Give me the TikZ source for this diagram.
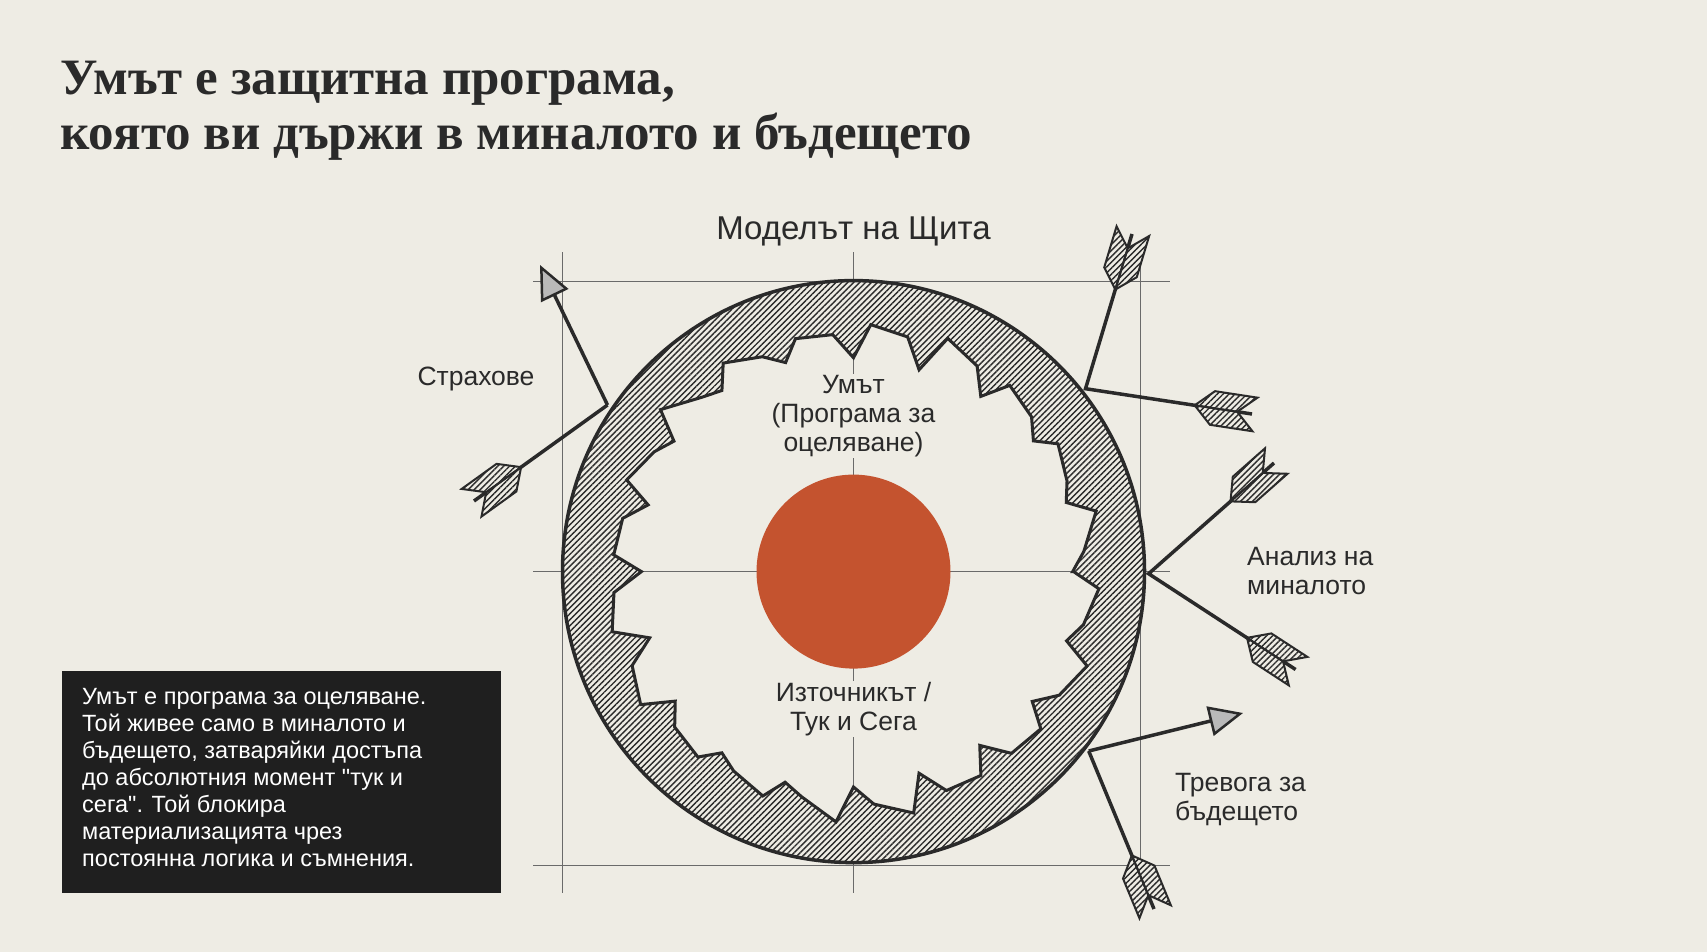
\documentclass[tikz,border=0pt]{standalone}
\usepackage{fontspec}
\setmainfont{Liberation Serif}
\newfontfamily\sansf{Liberation Sans}
\usetikzlibrary{patterns.meta,arrows.meta,calc}
\definecolor{bgc}{HTML}{EEECE4}
\definecolor{ink}{HTML}{2A2A2A}
\definecolor{sun}{HTML}{C4532F}
\definecolor{boxc}{HTML}{1F1F1F}
\tikzset{
  gridline/.style={draw=ink!70, line width=1pt},
  shaft/.style={draw=ink, line width=3.5pt},
  lbl/.style={font=\sansf\fontsize{26.5}{29}\selectfont, text=ink, inner sep=1pt},
  lbll/.style={lbl, align=left, anchor=west},
  lblc/.style={lbl, fill=bgc, align=center},
  hatch/.style={pattern={Lines[angle=45,distance=4.2pt,line width=1.4pt]}, pattern color=ink},
  headtip/.style={-{Triangle[length=34pt,width=30pt,fill=gray!55,line width=2.5pt]}},
  fletch/.pic={
    \fill[bgc] (-58pt,0pt)--(-40pt,17pt)--(3pt,17pt)--(-15pt,0pt)--(3pt,-17pt)--(-40pt,-17pt)--cycle;
    \draw[ink, line width=2pt, hatch, line join=miter] (-58pt,0pt)--(-40pt,17pt)--(3pt,17pt)--(-15pt,0pt)--cycle;
    \draw[ink, line width=2pt, hatch, line join=miter] (-58pt,0pt)--(-40pt,-17pt)--(3pt,-17pt)--(-15pt,0pt)--cycle;
  }
}
\begin{document}
\begin{tikzpicture}[x=1pt,y=-1pt]
\useasboundingbox (0,0) rectangle (1707,952);
\fill[bgc] (0,0) rectangle (1707,952);

% title
\node[anchor=west, font=\bfseries\fontsize{51}{55}\selectfont, text=ink, align=left, inner sep=0] (title) at (60,111)
  {Умът е защитна програма,\\която ви държи в миналото и бъдещето};

% grid
\coordinate (c) at (853.5,571.6);
\draw[gridline] (562,252) -- (562,893);
\draw[gridline] (853.5,252) -- (853.5,893);
\draw[gridline] (1140,252) -- (1140,893);
\draw[gridline] (533,281) -- (1170,281);
\draw[gridline] (533,571.6) -- (1170,571.6);
\draw[gridline] (533,865.5) -- (1170,865.5);

% ring
\def\teeth{(0:220) \foreach \i in {0,...,19}{ -- ({\i*18+4}:{246+6*sin(\i*97)}) -- ({\i*18+13}:{236+5*sin(\i*53)}) -- ({\i*18+18}:{218+6*cos(\i*61)}) } -- cycle}
\begin{scope}[shift={(c)}]
\fill[bgc, even odd rule] (0,0) circle (291) \teeth;
\fill[hatch, even odd rule] (0,0) circle (291) \teeth;
\draw[ink, line width=3.5pt] (0,0) circle (291);
\draw[ink, line width=3pt, line join=miter] \teeth;
\end{scope}
\fill[sun] (c) circle (97);

% labels
\node[lbl, font=\sansf\fontsize{33}{36}\selectfont, fill=bgc] (model) at (853.5,231) {Моделът на Щита};
\node[lblc] (mind) at (853.5,416) {Умът\\(Програма за\\оцеляване)};
\node[lblc] (source) at (853.5,709) {Източникът /\\Тук и Сега};
\node[lbl] (fears) at (476,379) {Страхове};
\node[lbll] (past) at (1246,571) {Анализ на\\миналото};
\node[lbll] (future) at (1174,800) {Тревога за\\бъдещето};

% arrows
\coordinate (b1) at (607.5,405); \coordinate (t1) at (474,501); \coordinate (h1) at (540,265);
\coordinate (b2) at (1085.5,388.7); \coordinate (t2a) at (1132,234); \coordinate (t2b) at (1252,414);
\coordinate (b3) at (1148.6,573.7); \coordinate (t3a) at (1274,463); \coordinate (t3b) at (1295.6,669.5);
\coordinate (b4) at (1088.7,751); \coordinate (h4) at (1243,713); \coordinate (t4) at (1154,909);

\draw[shaft] (t1) -- (b1);
\draw[shaft, headtip] (b1) -- (h1);
\draw[shaft, line join=miter] (t2a) -- (b2) -- (t2b);
\draw[shaft, line join=miter] (t3a) -- (b3) -- (t3b);
\draw[shaft] (t4) -- (b4);
\draw[shaft, headtip] (b4) -- (h4);

\foreach \e/\b in {t1/b1, t2a/b2, t2b/b2, t3a/b3, t3b/b3, t4/b4}{
  \path let \p1=($(\e)-(\b)$), \n1={atan2(\y1,\x1)} in pic[rotate=\n1] at (\e) {fletch};
}

% text box
\node[fill=boxc, anchor=north west, minimum width=439, minimum height=222, inner sep=0] (box) at (62,671) {};
\node[anchor=north west, text=white, align=left, font=\sansf\fontsize{23.5}{27}\selectfont, inner sep=0] (boxtext) at (82,688)
 {Умът е програма за оцеляване.\\Той живее само в миналото и\\бъдещето, затваряйки достъпа\\до абсолютния момент "тук и\\сега". Той блокира\\материализацията чрез\\постоянна логика и съмнения.};
\end{tikzpicture}
\end{document}
